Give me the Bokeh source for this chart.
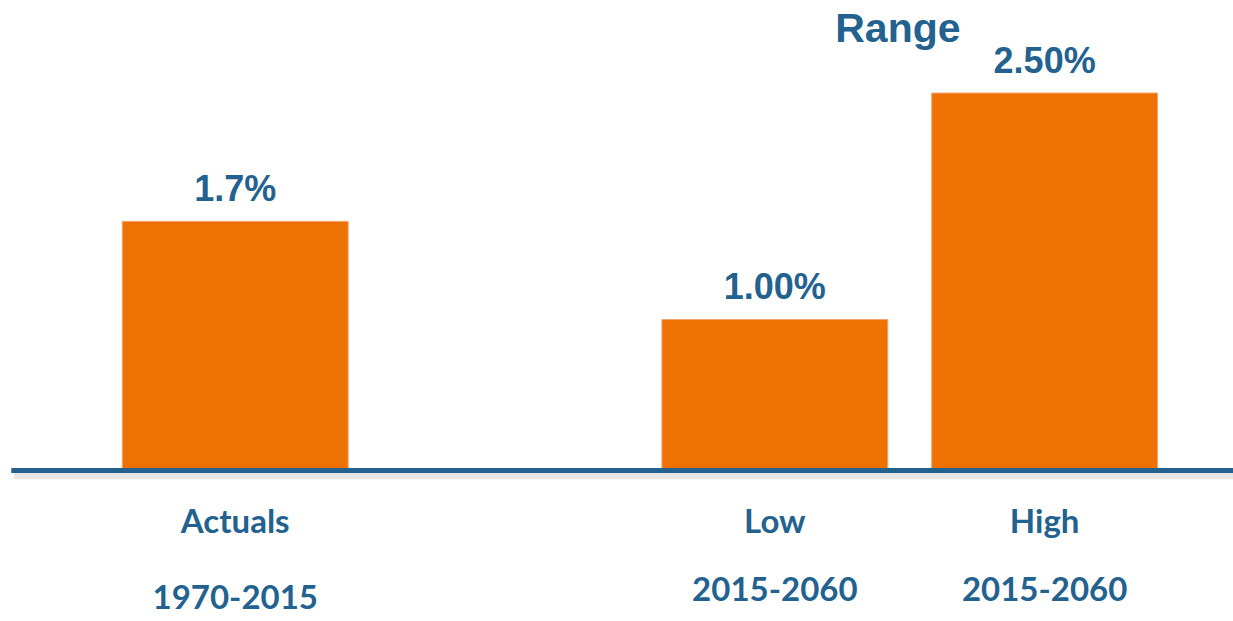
from bokeh.plotting import figure
from bokeh.models import ColumnDataSource, Range1d
from bokeh.core.properties import value
from bokeh.embed import file_html
from bokeh.resources import INLINE

# ---- data ----
categories = ["Actuals", "Low", "High"]
periods = ["1970-2015", "2015-2060", "2015-2060"]
positions = [0, 2, 3]
rates = [1.65, 1.00, 2.50]
rate_labels = ["1.7%", "1.00%", "2.50%"]
group_title = "Range"

# ---- style ----
ORANGE = "#EE7203"
BLUE = "#23618F"
period_offsets = [126, 118, 118]

p = figure(width=1233, height=621, output_backend="svg", toolbar_location=None,
           x_range=Range1d(-0.87, 3.70), y_range=Range1d(-1.0, 3.113),
           min_border=0, outline_line_color=None)
p.axis.visible = False
p.grid.visible = False
p.background_fill_color = "white"
p.border_fill_color = "white"

src = ColumnDataSource(dict(x=positions, top=rates, lab=rate_labels,
                            cat=categories, per=periods, poff=period_offsets))

p.vbar(x="x", top="top", bottom=0, width=0.837, source=src,
       fill_color=ORANGE, line_color="#F4A26A", line_width=1)

# baseline with soft shadow
x0 = -0.83
x1 = 3.70
p.line([x0 + 0.01, x1], [-0.035, -0.035], line_color="#9a9a9a", line_width=7, line_alpha=0.25)
p.line([x0, x1], [0, 0], line_color=BLUE, line_width=5)

# value labels
p.text(x="x", y="top", text="lab", source=src, text_align="center",
       text_baseline="alphabetic", y_offset=-33, text_color=BLUE,
       text_font=value("Liberation Sans"), text_font_style="bold",
       text_font_size="36px")

# category labels
p.text(x="x", y=0, text="cat", source=src, text_align="center",
       text_baseline="alphabetic", y_offset=49, text_color=BLUE,
       text_font=value("Lato"), text_font_style="bold", text_font_size="33px")
p.text(x="x", y=0, text="per", source=src, text_align="center",
       text_baseline="alphabetic", y_offset="poff", text_color=BLUE,
       text_font=value("Lato"), text_font_style="bold", text_font_size="33px")

# group title over the range bars
p.text(x=[(positions[1] + positions[2]) / 2 - 0.044], y=[rates[2]], text=[group_title],
       text_align="center", text_baseline="alphabetic", y_offset=-65,
       text_color=BLUE, text_font=value("Liberation Sans"), text_font_style="bold",
       text_font_size="41px")

open("out.html", "w").write(file_html(p, INLINE))
